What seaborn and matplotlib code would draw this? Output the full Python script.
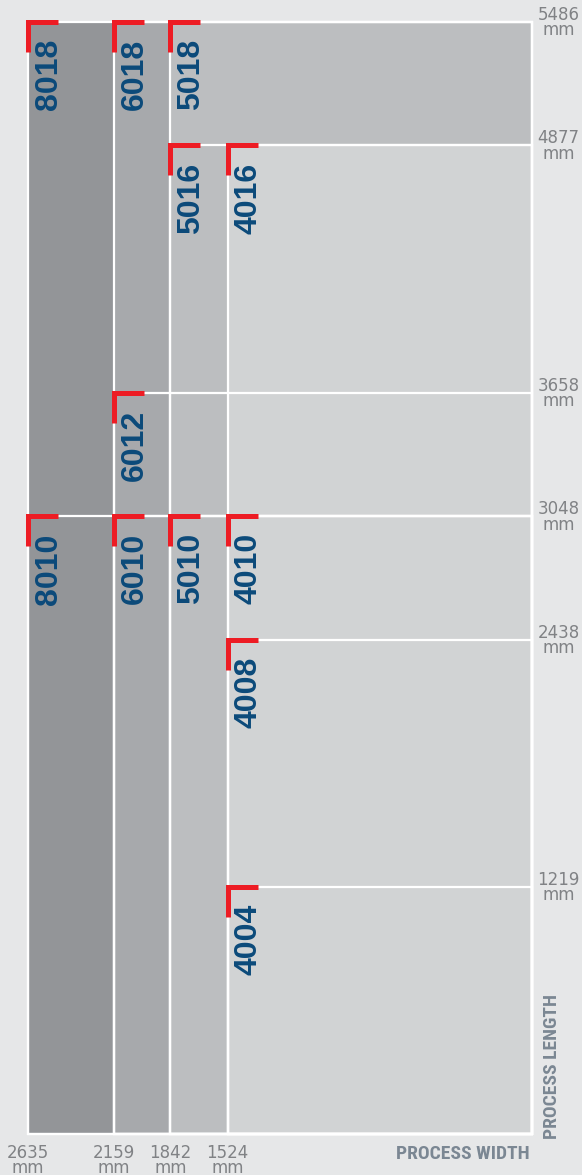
import matplotlib
matplotlib.use("Agg")
import matplotlib.pyplot as plt
from matplotlib import transforms
import seaborn as sns
import pandas as pd

# ---------------- data ----------------
models = ["8018", "6018", "5018", "5016", "4016", "6012",
          "8010", "6010", "5010", "4010", "4008", "4004"]
widths = [2635, 2159, 1842, 1842, 1524, 2159,
          2635, 2159, 1842, 1524, 1524, 1524]
lengths = [5486, 5486, 5486, 4877, 4877, 3658,
           3048, 3048, 3048, 3048, 2438, 1219]
width_ticks = [2635, 2159, 1842, 1524]
length_ticks = [5486, 4877, 3658, 3048, 2438, 1219]

# ---------------- style ----------------
BG = "#e6e7e8"
shade = {2635: "#939598", 2159: "#a7a9ac", 1842: "#bcbec0", 1524: "#d1d3d4"}
RED = "#ed1c24"
BLUE = "#0b4a7a"
TICK = "#808285"
TITLE = "#7b8793"

sns.set_theme(style="white")
plt.rcParams["font.family"] = ["DejaVu Sans"]

W, H = 582, 1175
fig = plt.figure(figsize=(W / 100, H / 100), dpi=100, facecolor=BG)
ax = fig.add_axes([28 / W, 1 - 1134 / H, (532 - 28) / W, (1134 - 22) / H])
ax.set_facecolor(BG)
ax.set_xlim(2635, -170)
ax.set_ylim(0, 5486)
x_end = ax.get_xlim()[1]

df = pd.DataFrame(dict(model=models, width=widths, length=lengths))
fill = df.sort_values(["width", "length"], ascending=[False, False])

# fills (wider machines first, narrower drawn on top)
ax.bar(fill["width"], fill["length"], width=x_end - fill["width"], align="edge",
       color=[shade[w] for w in fill["width"]], linewidth=0, zorder=1)
# white outlines of every envelope
ax.bar(df["width"], df["length"], width=x_end - df["width"], align="edge",
       facecolor="none", edgecolor="white", linewidth=1.6, zorder=2, clip_on=False)

for s in ax.spines.values():
    s.set_visible(False)

# ticks
ax.set_xticks(width_ticks, [f"{w}\nmm" for w in width_ticks])
ax.tick_params(axis="x", length=0, pad=7, labelsize=12, labelcolor=TICK)
ax.yaxis.tick_right()
ax.set_yticks(length_ticks, [f"{v}\nmm" for v in length_ticks])
ax.tick_params(axis="y", length=0, pad=4, labelsize=12, labelcolor=TICK)
for t in ax.get_xticklabels() + ax.get_yticklabels():
    t.set_multialignment("center")
    t.set_linespacing(0.82)

# red corner markers + model labels
inv = ax.transData.inverted()
lab_tr = transforms.offset_copy(ax.transData, fig=fig, x=29, y=-17, units="dots")
for m, w, L in zip(models, widths, lengths):
    cx, cy = ax.transData.transform((w, L))
    pts = inv.transform([(cx + 30, cy), (cx, cy), (cx, cy - 30)])
    ax.plot(pts[:, 0], pts[:, 1], color=RED, lw=3.6, solid_joinstyle="miter",
            solid_capstyle="butt", clip_on=False, zorder=4)
    ax.text(w, L, m, transform=lab_tr, rotation=90, rotation_mode="anchor",
            ha="right", va="baseline", fontsize=23, fontweight="bold",
            family=["Liberation Sans", "DejaVu Sans"], color=BLUE, zorder=5)

# axis titles (condensed bold)
narrow = ["Roboto Condensed", "DejaVu Sans"]
fig.text(530 / W, 1 - 1159 / H, "PROCESS WIDTH", ha="right", va="baseline",
         fontsize=14, fontweight="bold", fontstretch="condensed", family=narrow,
         color=TITLE)
fig.text(557 / W, 1 - 1139 / H, "PROCESS LENGTH", rotation=90, rotation_mode="anchor",
         ha="left", va="baseline", fontsize=14, fontweight="bold",
         fontstretch="condensed", family=narrow, color=TITLE)

fig.savefig("out.png", dpi=100, facecolor=BG)
